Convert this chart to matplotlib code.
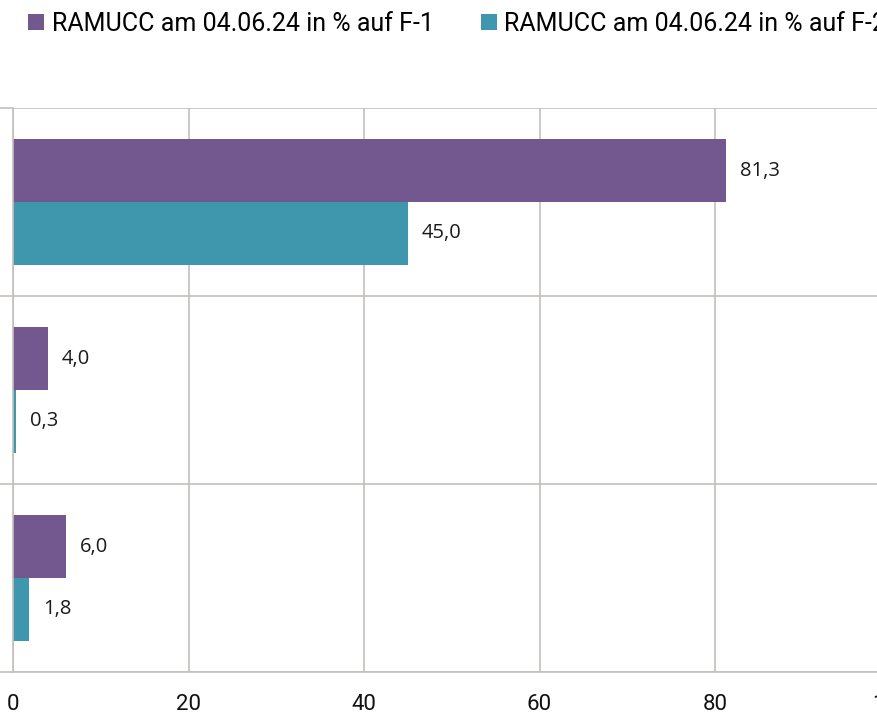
import matplotlib
matplotlib.use("Agg")
import matplotlib.pyplot as plt
import numpy as np

categories = ["A", "B", "C"]
series_names = ["RAMUCC am 04.06.24 in % auf F-1", "RAMUCC am 04.06.24 in % auf F-2"]
values_f1 = [81.3, 4.0, 6.0]
values_f2 = [45.0, 0.3, 1.8]
x_ticks = [0, 20, 40, 60, 80, 100]

purple = "#72588E"
teal = "#3F97AE"
grid_c = "#C4BFBC"

W, H = 877, 718
fig = plt.figure(figsize=(W / 100, H / 100), dpi=100)
left = 13 / W
right = 890.5 / W
top = 1 - 108 / H
bottom = 1 - 672 / H
ax = fig.add_axes([left, bottom, right - left, top - bottom])

y = np.arange(len(categories))
h = 0.333
b1 = ax.barh(y - h / 2, values_f1, height=h, color=purple, label=series_names[0])
b2 = ax.barh(y + h / 2, values_f2, height=h, color=teal, label=series_names[1])

ax.set_xlim(0, 100)
ax.set_ylim(len(categories) - 0.5, -0.5)

lab_font = dict(family=["Open Sans", "DejaVu Sans"], fontsize=14.5, color="#1a1a1a")
for bars, vals in ((b1, values_f1), (b2, values_f2)):
    for bar, v in zip(bars, vals):
        ax.annotate(f"{v:.1f}".replace(".", ","),
                    xy=(v, bar.get_y() + bar.get_height() / 2),
                    xytext=(10, 0), textcoords="offset points",
                    va="center", ha="left", **lab_font)

ax.set_xticks(x_ticks)
ax.set_xticklabels([str(t) for t in x_ticks],
                   family=["Roboto", "DejaVu Sans"], fontsize=16, color="#111111")
ax.tick_params(axis="x", length=0, pad=16)
ax.set_yticks(np.arange(len(categories) + 1) - 0.5, minor=False)
ax.set_yticklabels([])
ax.tick_params(axis="y", length=10, width=1.2, color=grid_c, direction="out")

ax.grid(True, axis="both", color=grid_c, linewidth=1.2)
ax.set_axisbelow(True)
for s in ["top", "right"]:
    ax.spines[s].set_visible(False)
for s in ["left", "bottom"]:
    ax.spines[s].set_color(grid_c)
    ax.spines[s].set_linewidth(1.2)

fig.legend(handles=[b1, b2], labels=series_names, loc="center left",
           bbox_to_anchor=(28 / W, 1 - 24 / H), ncol=2, frameon=False,
           borderpad=0, borderaxespad=0,
           handlelength=0.64, handleheight=0.64, handletextpad=0.3,
           columnspacing=1.9,
           prop=dict(family=["Roboto", "DejaVu Sans"], size=18))

fig.savefig("out.png", dpi=100)
